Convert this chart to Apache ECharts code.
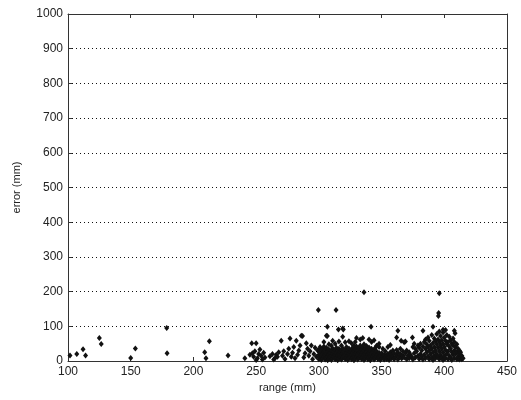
<!DOCTYPE html>
<html>
<head>
<meta charset="utf-8">
<script src="https://cdn.jsdelivr.net/npm/echarts@6/dist/echarts.min.js"></script>
<style>html,body{margin:0;padding:0;background:#fff}#c{width:521px;height:400px}</style>
</head>
<body>
<div id="c"></div>
<script>
// tick labels
var xTicks = [100, 150, 200, 250, 300, 350, 400, 450];
var yTicks = [0, 100, 200, 300, 400, 500, 600, 700, 800, 900, 1000];

// sparse points (range mm, error mm)
var sparsePts = [
  [101.6,16],[107,20],[112,34],[114,16],[125,66],[126.5,49],[150,9],[153.7,36],
  [178.7,95],[179,22],[209,25],[210,8],[212.7,57],[227.6,16],[241,8]
];
// points between 245 and 300 mm
var midPts = [
  [246.5,51],[250,51],[245,18],[247,22],[248,12],[249,28],[251,8],[252,20],[253,33],[254,15],
  [256,24],[257,10],[250,3],[255,4],[261,14],[263,20],[265,8],[266,18],[267,12],[264,4],
  [268,25],[270,58],[271,15],[272,28],[273,6],[275,20],[276,35],[277,65],[278,12],[279,24],
  [280,40],[281,8],[282,58],[283,18],[284,30],[285,45],[286,73],[287,72],[288,10],[289,22],
  [290,51],[291,35],[292,15],[293,28],[294,45],[295,5],[296,20],[297,38],[298,12],[299,30]
];
// outliers
var outlierPts = [
  [299.6,147],[313.7,147],[306.8,99],[306.8,72],[315.6,91],[319.5,91],[336,198],[341.6,99],
  [319,94],[396,195],[395.5,138],[395.3,130],[383,87],[391,99],[399,90],[408,87],[408.6,80],
  [363,87],[362,68],[365.6,58],[369,56],[374.6,68]
];
// dense cluster 300-349 mm: range and list of errors at that range
var denseRange = [300,301,302,303,304,305,306,307,308,309,310,311,312,313,314,315,316,317,318,319,
  320,321,322,323,324,325,326,327,328,329,330,331,332,333,334,335,336,337,338,339,
  340,341,342,343,344,345,346,347,348,349];
var denseErr = [
  [5,18,32],[10,25,40],[3,15,28],[8,20,35],[12,26,42,55],[4,17,30],[9,22,38,73],[2,14,28],
  [6,19,33,48],[11,24],[3,16,30,44],[8,21,36,58],[13,27],[5,18,32,50],[10,23,38],[2,15,29],
  [7,20,35,56],[12,25],[4,17,31,45],[9,22,37,70],[14,28],[6,19,33,54],[11,24,40],[3,16,30],
  [8,21,36,57],[13,26],[5,18,32,51],[10,23,39],[2,15,29,44],[7,20,35,55],[12,25,42,66],[4,17,31],
  [9,22,37],[14,28,45,62],[6,19,33],[11,24,40,66],[3,16,30,48],[8,21,36],[13,26,43],[5,18,32],
  [10,23,39,62],[2,15,29],[7,20,35,55],[12,25],[4,17,31,60],[9,22,38],[14,28,44],[6,19],
  [11,24,40,50],[3,16]
];
// cluster 350-415 mm
var farRange = [350,351,352,353,354,355,356,357,358,359,360,361,362,363,364,365,366,367,368,369,
  370,371,372,373,374,375,376,377,378,379,380,381,382,383,384,385,386,387,388,389,
  390,391,392,393,394,395,396,397,398,399,400,401,402,403,404,405,406,407,408,409,
  410,411,412,413,414,415];
var farErr = [
  [8,22],[12,35],[4,18],[10,28],[6,15],[20,40],[3,12],[46,25],[8,18],[14,30],
  [5,22],[10],[18,32],[4,25],[12],[20,35],[7],[15,28],[54,10],[22],
  [5,30],[15],[8,25],[18],[12],[40,4],[22,50],[10,35],[28],[15,45],
  [6,38],[20,50],[12,30],[4,42],[18,55],[8,35,62],[25,48],[14,40,68],[5,30,58],[20,45],
  [10,35,75],[3,25,52],[15,40,65],[8,30,58],[20,48,78],[12,38,62],[5,28,55,85],[18,45,72],[10,35,60],[3,25,50,82],
  [15,40,68],[8,32,58,89],[20,48,75],[5,28,55],[15,42,70],[10,35,60],[3,25,50],[18,45,65],[8,30,55],[20,40],
  [5,25,48],[12,35],[4,20,30],[10,25],[5,15],[8]
];

var data = [];
sparsePts.forEach(function(p){ data.push(p); });
midPts.forEach(function(p){ data.push(p); });
denseRange.forEach(function(x,i){ denseErr[i].forEach(function(y){ data.push([x,y]); }); });
farRange.forEach(function(x,i){ farErr[i].forEach(function(y){ data.push([x,y]); }); });
outlierPts.forEach(function(p){ data.push(p); });

var FONT = 'Liberation Sans';
var lineStyle = {color:'#333', width:1};
function plain(v){ return String(v); }

var chart = echarts.init(document.getElementById('c'));
chart.setOption({
  animation:false,
  backgroundColor:'#fff',
  grid:{left:68, right:14, top:14, bottom:39, show:false},
  xAxis:[{
    type:'value', min:xTicks[0], max:xTicks[xTicks.length-1], interval:50, position:'bottom',
    name:'range (mm)', nameLocation:'middle', nameGap:20,
    nameTextStyle:{color:'#222', fontFamily:FONT, fontSize:11},
    axisLine:{show:true, onZero:false, lineStyle:lineStyle},
    axisTick:{show:true, inside:true, length:4, lineStyle:lineStyle},
    axisLabel:{margin:5, color:'#222', fontFamily:FONT, fontSize:12, formatter:plain},
    splitLine:{show:false}
  },{
    type:'value', min:xTicks[0], max:xTicks[xTicks.length-1], interval:50, position:'top',
    axisLine:{show:true, onZero:false, lineStyle:lineStyle},
    axisTick:{show:true, inside:true, length:4, lineStyle:lineStyle},
    axisLabel:{show:false}, splitLine:{show:false}
  }],
  yAxis:[{
    type:'value', min:yTicks[0], max:yTicks[yTicks.length-1], interval:100, position:'left',
    name:'error (mm)', nameLocation:'middle', nameGap:46, nameRotate:90,
    nameTextStyle:{color:'#222', fontFamily:FONT, fontSize:11},
    axisLine:{show:true, onZero:false, lineStyle:lineStyle},
    axisTick:{show:true, inside:true, length:4, lineStyle:lineStyle},
    axisLabel:{margin:5, color:'#222', fontFamily:FONT, fontSize:12, formatter:plain},
    splitLine:{show:true, lineStyle:{color:'#111', type:[1,3], width:1}}
  },{
    type:'value', min:yTicks[0], max:yTicks[yTicks.length-1], interval:100, position:'right',
    axisLine:{show:true, onZero:false, lineStyle:lineStyle},
    axisTick:{show:true, inside:true, length:4, lineStyle:lineStyle},
    axisLabel:{show:false}, splitLine:{show:false}
  }],
  series:[{
    type:'scatter', xAxisIndex:0, yAxisIndex:0,
    symbol:'diamond', symbolSize:[5,6],
    itemStyle:{color:'#111', opacity:1},
    data:data
  }]
});
</script>
</body>
</html>
